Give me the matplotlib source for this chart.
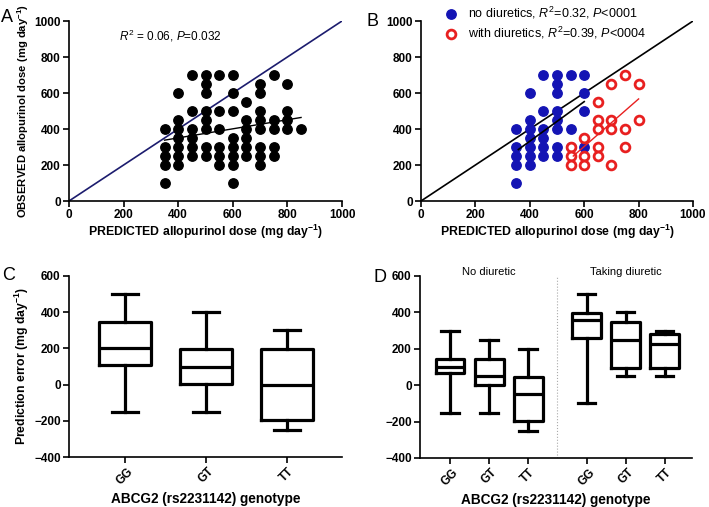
import matplotlib
matplotlib.use("Agg")
import matplotlib.pyplot as plt

plt.rcParams['font.family'] = ['Liberation Sans', 'DejaVu Sans']
plt.rcParams['mathtext.fontset'] = 'custom'
plt.rcParams['mathtext.rm'] = 'Liberation Sans'
plt.rcParams['mathtext.it'] = 'Liberation Sans:italic'
plt.rcParams['mathtext.bf'] = 'Liberation Sans:bold'

# ---- data: panel A (all patients) ----
a_x = ([350] * 5 + [400] * 7 + [450] * 6 + [500] * 8 + [550] * 6 + [600] * 8
       + [650] * 6 + [700] * 8 + [750] * 5 + [800] * 4 + [850])
a_y = ([400, 300, 250, 200, 100]
       + [600, 450, 400, 350, 300, 250, 200]
       + [700, 500, 400, 350, 300, 250]
       + [700, 650, 600, 500, 450, 400, 300, 250]
       + [700, 500, 400, 300, 250, 200]
       + [700, 600, 500, 350, 300, 250, 200, 100]
       + [550, 450, 400, 350, 300, 250]
       + [650, 600, 500, 450, 400, 300, 250, 200]
       + [700, 450, 400, 300, 250]
       + [650, 500, 450, 400]
       + [400])
a_fit_x = [350, 850]
a_fit_y = [338, 464]

# ---- data: panel B ----
b_no_x = [350] * 5 + [400] * 7 + [450] * 6 + [500] * 8 + [550] * 3 + [600] * 4
b_no_y = ([400, 300, 250, 200, 100]
          + [600, 450, 400, 350, 300, 250, 200]
          + [700, 500, 400, 350, 300, 250]
          + [700, 650, 600, 500, 450, 400, 300, 250]
          + [700, 400, 300]
          + [700, 600, 500, 300])
b_di_x = [550] * 3 + [600] * 3 + [650] * 5 + [700] * 4 + [750] * 3 + [800] * 2
b_di_y = ([300, 250, 200]
          + [350, 250, 200]
          + [550, 450, 400, 300, 250]
          + [650, 450, 400, 200]
          + [700, 400, 300]
          + [650, 450])
b_no_fit_x = [358, 600]
b_no_fit_y = [286, 552]
b_di_fit_x = [560, 800]
b_di_fit_y = [250, 567]

identity = [0, 1000]

# ---- data: panel C box stats (whislo, q1, med, q3, whishi) ----
genotypes = ['GG', 'GT', 'TT']
c_whislo = [-150, -150, -250]
c_q1 = [110, 5, -195]
c_med = [200, 100, 0]
c_q3 = [345, 198, 198]
c_whishi = [500, 400, 300]

# ---- data: panel D box stats (no diuretic GG, GT, TT, taking diuretic GG, GT, TT) ----
d_labels = genotypes + genotypes
d_whislo = [-150, -150, -250, -100, 50, 50]
d_q1 = [68, 2, -195, 258, 92, 92]
d_med = [100, 50, -50, 357, 250, 225]
d_q3 = [143, 143, 46, 394, 346, 284]
d_whishi = [300, 250, 200, 500, 400, 300]
d_pos = [1, 2, 3, 4.5, 5.5, 6.5]
d_groups = ['No diuretic', 'Taking diuretic']

BLUE = '#1414b4'
RED = '#e82020'
NAVY = '#1c1c6e'

fig = plt.figure(figsize=(7.09, 5.07), dpi=100)
axA = fig.add_axes([69 / 709, 1 - 201 / 507, 273 / 709, 180 / 507])
axB = fig.add_axes([421 / 709, 1 - 201 / 507, 272 / 709, 180 / 507])
axC = fig.add_axes([69 / 709, 1 - 457 / 507, 273 / 709, 181 / 507])
axD = fig.add_axes([420 / 709, 1 - 458 / 507, 272 / 709, 182 / 507])


def style_axes(ax, size=8.5):
    for s in ['top', 'right']:
        ax.spines[s].set_visible(False)
    for s in ['left', 'bottom']:
        ax.spines[s].set_linewidth(1.2)
    ax.tick_params(width=1.2, length=4, labelsize=size, pad=2)
    for lab in ax.get_xticklabels() + ax.get_yticklabels():
        lab.set_fontweight('bold')


xlab = r'PREDICTED allopurinol dose (mg day$^{\mathbf{-1}}$)'

# panel A
axA.plot(identity, identity, color=NAVY, lw=1.2)
axA.scatter(a_x, a_y, s=46, color='black', zorder=3, clip_on=False)
axA.plot(a_fit_x, a_fit_y, color='black', lw=1.0, zorder=4)
axA.set_xlim(0, 1000)
axA.set_ylim(0, 1000)
axA.set_xticks(range(0, 1001, 200))
axA.set_yticks(range(0, 1001, 200))
style_axes(axA)
axA.set_xlabel(xlab, fontsize=8.8, fontweight='bold', labelpad=1)
axA.set_ylabel(r'OBSERVED allopurinol dose (mg day$^{\mathbf{-1}}$)', fontsize=8.1,
               fontweight='bold', labelpad=2)
axA.text(0.37, 0.92, r'$R^2$ = 0.06, $P$=0.032', transform=axA.transAxes,
         fontsize=8.5, ha='center', va='center')

# panel B
axB.plot(identity, identity, color='black', lw=1.2)
axB.scatter(b_no_x, b_no_y, s=46, color=BLUE, zorder=3, clip_on=False,
            label=r'no diuretics, $R^2$=0.32, $P$<0001')
axB.scatter(b_di_x, b_di_y, s=40, facecolor='white', edgecolor=RED, linewidths=2,
            zorder=4, clip_on=False, label=r'with diuretics, $R^2$=0.39, $P$<0004')
axB.plot(b_no_fit_x, b_no_fit_y, color='black', lw=1.2, zorder=5)
axB.plot(b_di_fit_x, b_di_fit_y, color=RED, lw=1.0, zorder=5)
axB.set_xlim(0, 1000)
axB.set_ylim(0, 1000)
axB.set_xticks(range(0, 1001, 200))
axB.set_yticks(range(0, 1001, 200))
style_axes(axB)
axB.set_xlabel(xlab, fontsize=8.8, fontweight='bold', labelpad=1)
axB.legend(loc='upper left', bbox_to_anchor=(0.045, 1.12), frameon=False,
           fontsize=9, handletextpad=0.4, labelspacing=0.35, borderaxespad=0)


def box_stats(lo, q1, med, q3, hi):
    return [dict(whislo=a, q1=b, med=c, q3=d, whishi=e, fliers=[])
            for a, b, c, d, e in zip(lo, q1, med, q3, hi)]


lw_box = 2.3
box_kw = dict(showfliers=False, patch_artist=False,
              boxprops=dict(color='black', lw=lw_box),
              medianprops=dict(color='black', lw=lw_box),
              whiskerprops=dict(color='black', lw=lw_box),
              capprops=dict(color='black', lw=lw_box))

# panel C
axC.bxp(box_stats(c_whislo, c_q1, c_med, c_q3, c_whishi), positions=[1, 2, 3],
        widths=0.64, capwidths=0.33, **box_kw)
axC.set_xlim(0.31, 3.68)
axC.set_ylim(-400, 600)
axC.set_yticks(range(-400, 601, 200))
axC.set_xticks([1, 2, 3])
axC.set_xticklabels(genotypes, rotation=45)
style_axes(axC)
axC.set_ylabel(r'Prediction error (mg day$^{\mathbf{-1}}$)', fontsize=8.8,
               fontweight='bold', labelpad=2)
axC.set_xlabel('ABCG2 (rs2231142) genotype', fontsize=9.8, fontweight='bold', labelpad=4)

# panel D
axD.bxp(box_stats(d_whislo, d_q1, d_med, d_q3, d_whishi), positions=d_pos,
        widths=0.74, capwidths=0.45, **box_kw)
axD.set_xlim(0.23, 7.2)
axD.set_ylim(-400, 600)
axD.set_yticks(range(-400, 601, 200))
axD.set_xticks(d_pos)
axD.set_xticklabels(d_labels, rotation=45)
style_axes(axD)
axD.axvline(3.75, color='#aaaaaa', lw=0.8, ls=':')
axD.text(2, 623, d_groups[0], fontsize=8, ha='center', va='center')
axD.text(5.5, 623, d_groups[1], fontsize=8, ha='center', va='center')
axD.set_xlabel('ABCG2 (rs2231142) genotype', fontsize=9.8, fontweight='bold', labelpad=4)

# panel letters
fig.text(7 / 709, 1 - 18 / 507, 'A', fontsize=13, ha='center', va='center')
fig.text(372 / 709, 1 - 22 / 507, 'B', fontsize=13, ha='center', va='center')
fig.text(9 / 709, 1 - 275 / 507, 'C', fontsize=13, ha='center', va='center')
fig.text(380 / 709, 1 - 277 / 507, 'D', fontsize=13, ha='center', va='center')

fig.savefig('out.png', dpi=100)
